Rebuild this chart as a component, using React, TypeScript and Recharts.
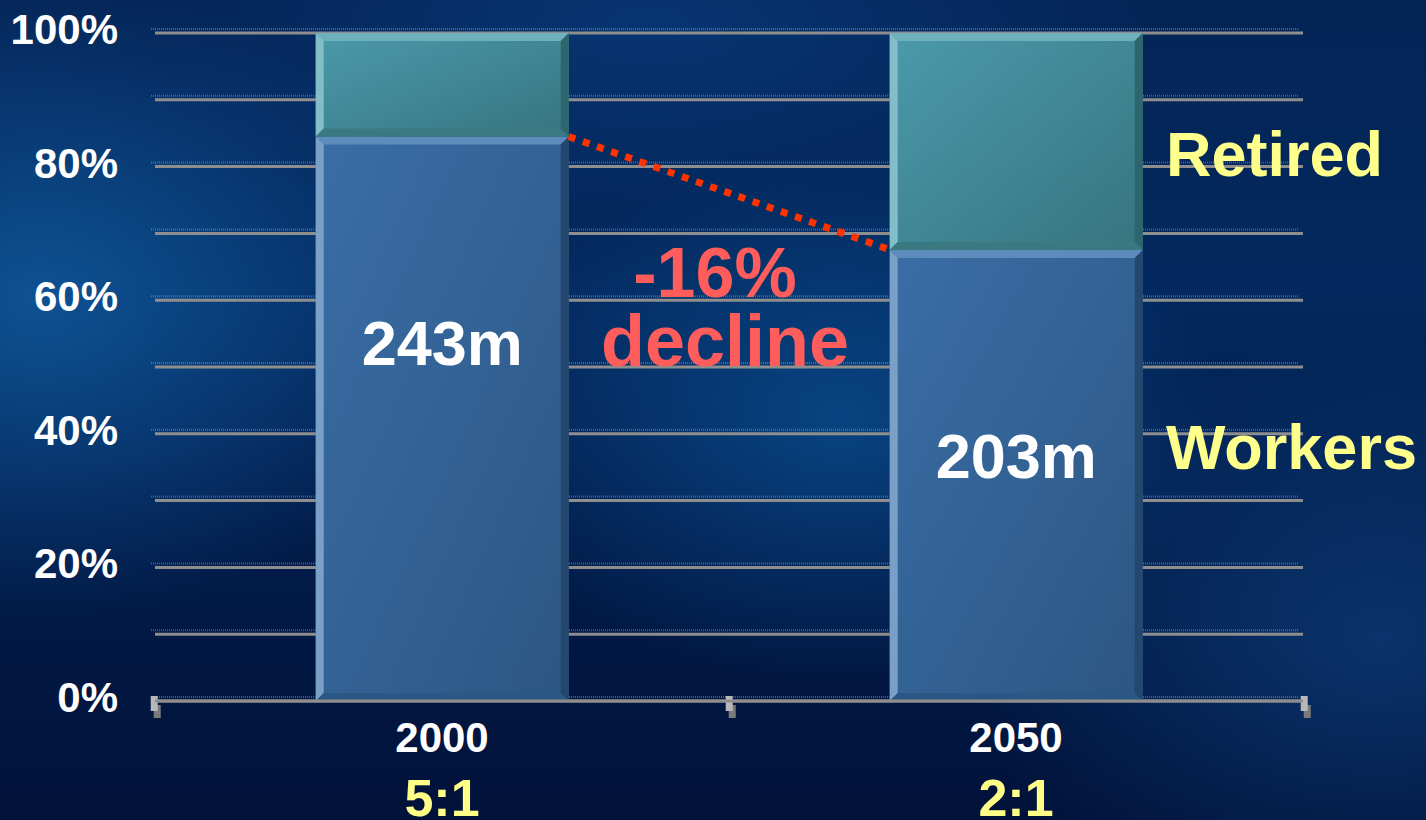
import React from 'react';
import { BarChart, Bar, XAxis, YAxis, CartesianGrid, LabelList } from 'recharts';

const years = ['2000', '2050'];
const ratios = ['5:1', '2:1'];
const workers = [84.5, 67.5];
const retired = [15.5, 32.5];
const workerLabels = ['243m', '203m'];
const yTicks = [0, 10, 20, 30, 40, 50, 60, 70, 80, 90, 100];
const BAR_GAP = 0.28;

const data = years.map((y, i) => ({ year: y, ratio: ratios[i], workers: workers[i], retired: retired[i], label: workerLabels[i] }));

const W = 1426;
const H = 820;
const FONT = '"Liberation Sans", Arial, sans-serif';

const WORKER_PAL = { face: 'url(#gWork)', top: '#5d8cbc', left: '#7aa0c8', right: '#24476e', bottom: '#2b5784' };
const RETIRED_PAL = { face: 'url(#gRet)', top: '#6fb0bd', left: '#82bdc8', right: '#2e6670', bottom: '#3a7882' };

const Bevel = (props: any) => {
  const { x, y, width: w, height: h, pal } = props;
  if (!w || !h || h <= 0) return null;
  const b = 8;
  return (
    <g>
      <rect x={x} y={y} width={w} height={h} fill={pal.face} />
      <polygon points={`${x},${y} ${x + w},${y} ${x + w - b},${y + b} ${x + b},${y + b}`} fill={pal.top} />
      <polygon points={`${x},${y} ${x + b},${y + b} ${x + b},${y + h - b} ${x},${y + h}`} fill={pal.left} />
      <polygon points={`${x + w},${y} ${x + w},${y + h} ${x + w - b},${y + h - b} ${x + w - b},${y + b}`} fill={pal.right} />
      <polygon points={`${x},${y + h} ${x + b},${y + h - b} ${x + w - b},${y + h - b} ${x + w},${y + h}`} fill={pal.bottom} />
    </g>
  );
};

// Workers bar: for the first category also draws the connecting dotted line and
// the category boundary marks, derived from the bar geometry and the data values.
const WorkersShape = (props: any) => {
  const { x, y, width, height, payload } = props;
  const bar = <Bevel {...props} pal={WORKER_PAL} />;
  if (!payload || payload.year !== years[0] || !height) return bar;
  const band = width / (1 - 2 * BAR_GAP);
  const base = y + height;
  const perUnit = height / workers[0];
  const y2 = base - workers[1] * perUnit;
  const x2 = x + band;
  const bandStart = x - BAR_GAP * band;
  const marks = [0, 1, 2].map((k) => bandStart + k * band);
  return (
    <g>
      {bar}
      {marks.map((mx, k) => (
        <g key={`m-${k}`}>
          <rect x={mx - 1} y={base + 4} width={7} height={13} fill="#7a7a7a" />
          <rect x={mx - 4} y={base - 5} width={7} height={15} fill="#b8b8b8" />
        </g>
      ))}
      <line x1={x + width} y1={y} x2={x2} y2={y2} stroke="#ff3300" strokeWidth={7} strokeDasharray="7 8" />
    </g>
  );
};

const RetiredShape = (props: any) => <Bevel {...props} pal={RETIRED_PAL} />;

const YTick = (props: any) => {
  const { y, payload } = props;
  if (payload.value % 20 !== 0) return null;
  return (
    <text x={118} y={y + 11} textAnchor="end" fill="#ffffff" fontFamily={FONT} fontWeight="bold" fontSize={42}>
      {payload.value}%
    </text>
  );
};

const XTick = (props: any) => {
  const { x, y, payload, index } = props;
  return (
    <g>
      <text x={x} y={y + 43} textAnchor="middle" fill="#ffffff" fontFamily={FONT} fontWeight="bold" fontSize={42}>
        {payload.value}
      </text>
      <text x={x} y={y + 107} textAnchor="middle" fill="#ffff88" fontFamily={FONT} fontWeight="bold" fontSize={52}>
        {ratios[index]}
      </text>
    </g>
  );
};

const GridLine = (p: any) => {
  const { x1, x2, y1 } = p;
  return (
    <g key={`gl-${y1}`}>
      <line x1={x1 - 4} x2={x2 - 4} y1={y1 - 4} y2={y1 - 4} stroke="#9aa4b8" strokeWidth={2} strokeDasharray="1 1" opacity={0.45} />
      <line x1={x1} x2={x2} y1={y1} y2={y1} stroke="#8e8e8e" strokeWidth={3} />
    </g>
  );
};

const WorkerLabel = (props: any) => {
  const { x, y, width, value } = props;
  return (
    <text x={x + width / 2} y={y + 228} textAnchor="middle" fill="#ffffff" fontFamily={FONT} fontWeight="bold" fontSize={63}>
      {value}
    </text>
  );
};

export default function App() {
  return (
    <div
      style={{
        position: 'fixed',
        left: 0,
        top: 0,
        width: W,
        height: H,
        overflow: 'hidden',
        background: [
          'radial-gradient(ellipse 420px 320px at 40px 300px, rgba(18,95,165,0.75), rgba(18,95,165,0) 100%)',
          'radial-gradient(ellipse 380px 260px at 840px 420px, rgba(12,90,160,0.6), rgba(12,90,160,0) 100%)',
          'radial-gradient(ellipse 420px 300px at 1380px 640px, rgba(20,85,155,0.45), rgba(20,85,155,0) 100%)',
          'radial-gradient(ellipse 500px 200px at 650px 20px, rgba(10,70,140,0.5), rgba(10,70,140,0) 100%)',
          'linear-gradient(180deg, #042456 0%, #03295e 35%, #021c4a 65%, #01123a 100%)',
        ].join(','),
      }}
    >
      <BarChart width={W} height={H} data={data} margin={{ top: 33, right: 123, bottom: 0, left: 0 }} barCategoryGap={`${BAR_GAP * 100}%`}>
        <defs>
          <linearGradient id="gWork" x1="0" y1="0" x2="1" y2="1">
            <stop offset="0%" stopColor="#3a6ea6" />
            <stop offset="100%" stopColor="#2c5683" />
          </linearGradient>
          <linearGradient id="gRet" x1="0" y1="0" x2="1" y2="1">
            <stop offset="0%" stopColor="#4b9aab" />
            <stop offset="100%" stopColor="#37747f" />
          </linearGradient>
        </defs>
        <CartesianGrid vertical={false} horizontal={GridLine as any} />
        <XAxis
          dataKey="year"
          height={119}
          axisLine={{ stroke: '#8e8e8e', strokeWidth: 3 }}
          tickLine={false}
          tick={<XTick />}
          interval={0}
        />
        <YAxis width={155} domain={[0, 100]} ticks={yTicks} axisLine={false} tickLine={false} tick={<YTick />} interval={0} />
        <Bar dataKey="workers" stackId="s" isAnimationActive={false} shape={WorkersShape}>
          <LabelList dataKey="label" content={<WorkerLabel />} />
        </Bar>
        <Bar dataKey="retired" stackId="s" isAnimationActive={false} shape={RetiredShape} />
      </BarChart>
      <svg width={W} height={H} style={{ position: 'absolute', left: 0, top: 0, pointerEvents: 'none' }}>
        <text x={715} y={297} textAnchor="middle" fill="#ff5c5c" fontFamily={FONT} fontWeight="bold" fontSize={70}>-16%</text>
        <text x={725} y={366} textAnchor="middle" fill="#ff5c5c" fontFamily={FONT} fontWeight="bold" fontSize={72}>decline</text>
        <text x={1166} y={176} fill="#ffff8c" fontFamily={FONT} fontWeight="bold" fontSize={63}>Retired</text>
        <text x={1166} y={469} fill="#ffff8c" fontFamily={FONT} fontWeight="bold" fontSize={63}>Workers</text>
      </svg>
    </div>
  );
}
